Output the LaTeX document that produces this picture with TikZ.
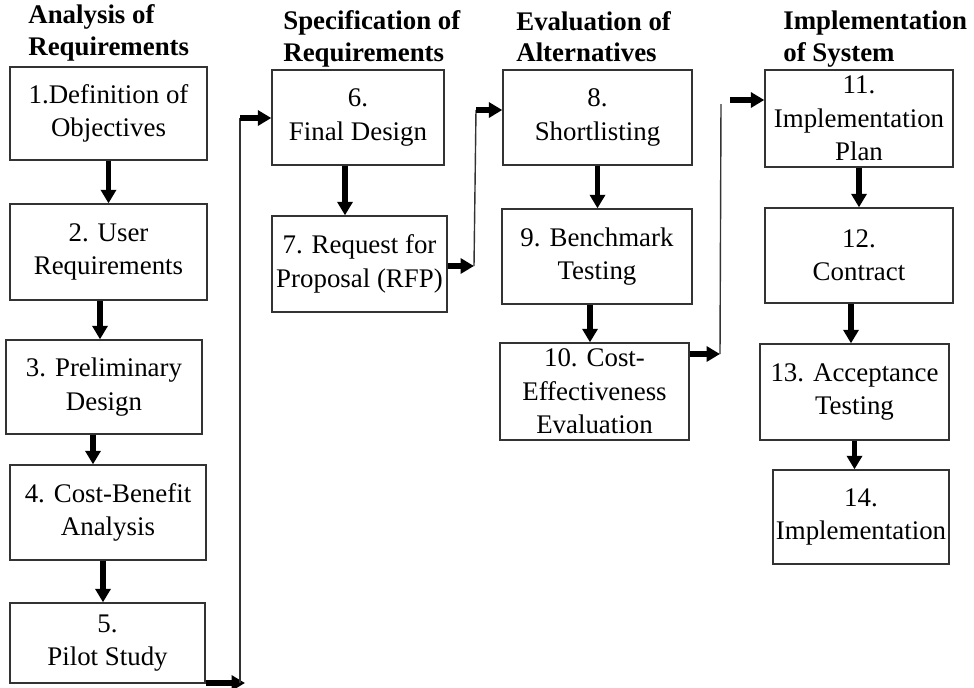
\documentclass[tikz,border=0pt]{standalone}
\usepackage{fontspec}
\setmainfont{Liberation Serif}
\usetikzlibrary{arrows.meta,positioning}

\begin{document}
\begin{tikzpicture}[x=0.02cm,y=-0.02cm,
		stage/.style={draw=black!80,line width=0.8pt,align=center,inner sep=0pt,font=\fontsize{15.3}{19}\selectfont},
		head/.style={anchor=west,align=left,inner sep=0pt,font=\fontsize{15.3}{17.8}\selectfont\bfseries},
		flow/.style={line width=3.3pt,-{Triangle[length=0.27cm,width=0.3cm]}},
		link/.style={line width=0.8pt,black!80}]
		\useasboundingbox (0,0) rectangle (974,687);
		
		% headings
		\node[head] (h1) at (28,33) {Analysis of\\Requirements};
		\node[head] (h2) at (283,39) {Specification of\\Requirements};
		\node[head] (h3) at (516,37) {Evaluation of\\Alternatives};
		\node[head] (h4) at (783,39) {Implementation\\of System};
		
		% stages
		\node[stage,minimum width=3.94cm,minimum height=1.86cm] (1) at (108.5,113.5) {1.Definition of\\Objectives};
		\node[stage,minimum width=3.94cm,minimum height=1.92cm] (2) at (108.5,252) {2. User\\Requirements};
		\node[stage,minimum width=3.92cm,minimum height=1.88cm] (3) at (104,387) {3. Preliminary\\Design};
		\node[stage,minimum width=3.92cm,minimum height=1.9cm] (4) at (108,512.5) {4. Cost-Benefit\\Analysis};
		\node[stage,minimum width=3.9cm,minimum height=1.6cm] (5) at (107.5,643) {5.\\Pilot Study};
		
		\node[stage,minimum width=3.44cm,minimum height=1.9cm] (6) at (358,117.5) {6.\\Final Design};
		\node[stage,minimum width=3.5cm,minimum height=1.92cm] (7) at (359.5,264) {7. Request for\\Proposal (RFP)};
		
		\node[stage,minimum width=3.78cm,minimum height=1.9cm] (8) at (597.5,117.5) {8.\\Shortlisting};
		\node[stage,minimum width=3.8cm,minimum height=1.9cm] (9) at (597,256.5) {9. Benchmark\\Testing};
		\node[stage,minimum width=3.78cm,minimum height=1.94cm] (10) at (594.5,391.5) {10. Cost-\\Effectiveness\\Evaluation};
		
		\node[stage,minimum width=3.76cm,minimum height=1.94cm] (11) at (859,118.5) {11.\\Implementation\\Plan};
		\node[stage,minimum width=3.76cm,minimum height=1.9cm] (12) at (859,255.5) {12.\\Contract};
		\node[stage,minimum width=3.78cm,minimum height=1.92cm] (13) at (854.5,392) {13. Acceptance\\Testing};
		\node[stage,minimum width=3.52cm,minimum height=1.88cm] (14) at (861,517) {14.\\Implementation};
		
		% arrows inside a column
		\draw[flow] (1.south) -- (1.south |- 2.north);
		\draw[flow] ([xshift=-0.17cm]2.south) -- ([xshift=-0.17cm]2.south |- 3.north);
		\draw[flow] ([xshift=-0.22cm]3.south) -- ([xshift=-0.22cm]3.south |- 4.north);
		\draw[flow] ([xshift=-0.1cm]4.south) -- ([xshift=-0.1cm]4.south |- 5.north);
		\draw[flow] ([xshift=-0.26cm]6.south) -- ([xshift=-0.26cm]6.south |- 7.north);
		\draw[flow] (8.south) -- (8.south |- 9.north);
		\draw[flow] ([xshift=-0.14cm]9.south) -- ([xshift=-0.14cm]9.south |- 10.north);
		\draw[flow] (11.south) -- (11.south |- 12.north);
		\draw[flow] ([xshift=-0.16cm]12.south) -- ([xshift=-0.16cm]12.south |- 13.north);
		\draw[flow] (13.south) -- (13.south |- 14.north);
		
		% links between columns
		\coordinate (a1) at (240,683);
		\coordinate (a2) at (240,118);
		\draw[flow] (5.east |- a1) -- ([xshift=0.1cm]a1);
		\draw[link] (a1) -- (a2);
		\draw[flow] (a2) -- (a2 -| 6.west);
		
		\coordinate (b1) at (474,266);
		\coordinate (b2) at (476,110);
		\draw[flow] (7.east |- b1) -- (b1);
		\draw[link] (b1) -- (b2);
		\draw[flow] (b2) -- (b2 -| 8.west);
		
		\coordinate (c1) at (720,354);
		\coordinate (c2) at (721,104);
		\coordinate (c3) at (730,100);
		\draw[flow] (10.east |- c1) -- (c1);
		\draw[link] (c1) -- (c2);
		\draw[flow] (c3) -- (c3 -| 11.west);
		\end{tikzpicture}
\end{document}
